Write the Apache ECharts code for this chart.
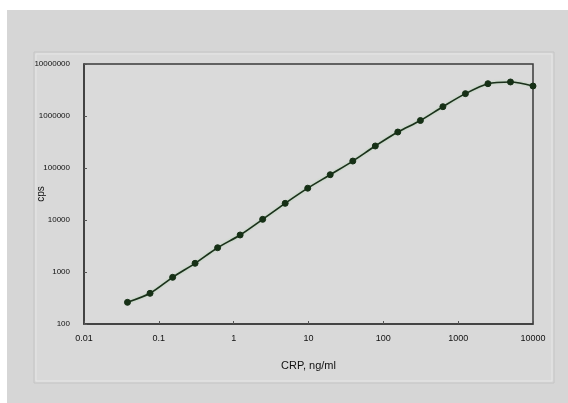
<!DOCTYPE html>
<html>
<head>
<meta charset="utf-8">
<script src="https://cdn.jsdelivr.net/npm/echarts@6/dist/echarts.min.js"></script>
<style>
html,body{margin:0;padding:0;background:#ffffff;}
#c{width:568px;height:403px;}
</style>
</head>
<body>
<div id="c"></div>
<script>
const crp = [0.0381, 0.0763, 0.153, 0.305, 0.610, 1.22, 2.44, 4.88, 9.77, 19.5, 39.1, 78.1, 156, 313, 625, 1250, 2500, 5000, 10000];
const cps = [261, 389, 790, 1470, 2930, 5150, 10300, 20900, 40900, 74300, 136000, 265000, 492000, 819000, 1510000, 2690000, 4180000, 4510000, 3770000];
const xTickLabels = {0.01: '0.01', 0.1: '0.1', 1: '1', 10: '10', 100: '100', 1000: '1000', 10000: '10000'};
const yTickLabels = {100: '100', 1000: '1000', 10000: '10000', 100000: '100000', 1000000: '1000000', 10000000: '10000000'};

const chart = echarts.init(document.getElementById('c'), null, {renderer: 'canvas'});
const font = '"Liberation Sans Narrow", "Liberation Sans", Arial, sans-serif';
function lab(map, v) {
  for (const k in map) { if (Math.abs(Math.log10(+k) - Math.log10(v)) < 1e-6) return map[k]; }
  return '';
}
chart.setOption({
  backgroundColor: '#ffffff',
  animation: false,
  graphic: [
    {type: 'rect', z: -10, shape: {x: 7, y: 10, width: 561, height: 393}, style: {fill: '#d6d6d6'}},
    {type: 'rect', z: -9, shape: {x: 34, y: 52, width: 520, height: 331}, style: {fill: '#d9d9d9', stroke: '#c4c4c4', lineWidth: 1}},
    {type: 'rect', z: -8, shape: {x: 36, y: 54, width: 516, height: 327}, style: {fill: 'none', stroke: '#e6e6e6', lineWidth: 1}}
  ],
  grid: {left: 84, right: 35, top: 64, bottom: 79, show: true, borderColor: '#3a3a3a', borderWidth: 1.5, backgroundColor: '#dadada'},
  xAxis: {
    type: 'log', logBase: 10, min: 0.01, max: 10000,
    name: 'CRP, ng/ml', nameLocation: 'middle', nameGap: 36, nameMoveOverlap: false,
    nameTextStyle: {fontFamily: font, fontSize: 11, color: '#111'},
    axisLine: {show: true, lineStyle: {color: '#3a3a3a', width: 1.5}},
    axisTick: {show: true, inside: true, length: 3, lineStyle: {color: '#555'}},
    splitLine: {show: false},
    minorTick: {show: false},
    axisLabel: {fontFamily: font, fontSize: 9, color: '#111', margin: 10, formatter: v => lab(xTickLabels, v)}
  },
  yAxis: {
    type: 'log', logBase: 10, min: 100, max: 10000000,
    name: 'cps', nameLocation: 'middle', nameGap: 38, nameRotate: 90, nameMoveOverlap: false,
    nameTextStyle: {fontFamily: font, fontSize: 10, color: '#111'},
    axisLine: {show: true, lineStyle: {color: '#3a3a3a', width: 1.5}},
    axisTick: {show: true, inside: true, length: 3, lineStyle: {color: '#555'}},
    splitLine: {show: false},
    axisLabel: {fontFamily: font, fontSize: 8, color: '#111', margin: 14, formatter: v => lab(yTickLabels, v)}
  },
  series: [{
    type: 'line',
    data: crp.map((x, i) => [x, cps[i]]),
    smooth: 0.3,
    symbol: 'circle',
    symbolSize: 6,
    lineStyle: {color: '#1c2f1c', width: 1.6, shadowColor: 'rgba(120,200,120,0.6)', shadowBlur: 2},
    itemStyle: {color: '#163016', borderColor: '#163016'}
  }]
});
</script>
</body>
</html>
